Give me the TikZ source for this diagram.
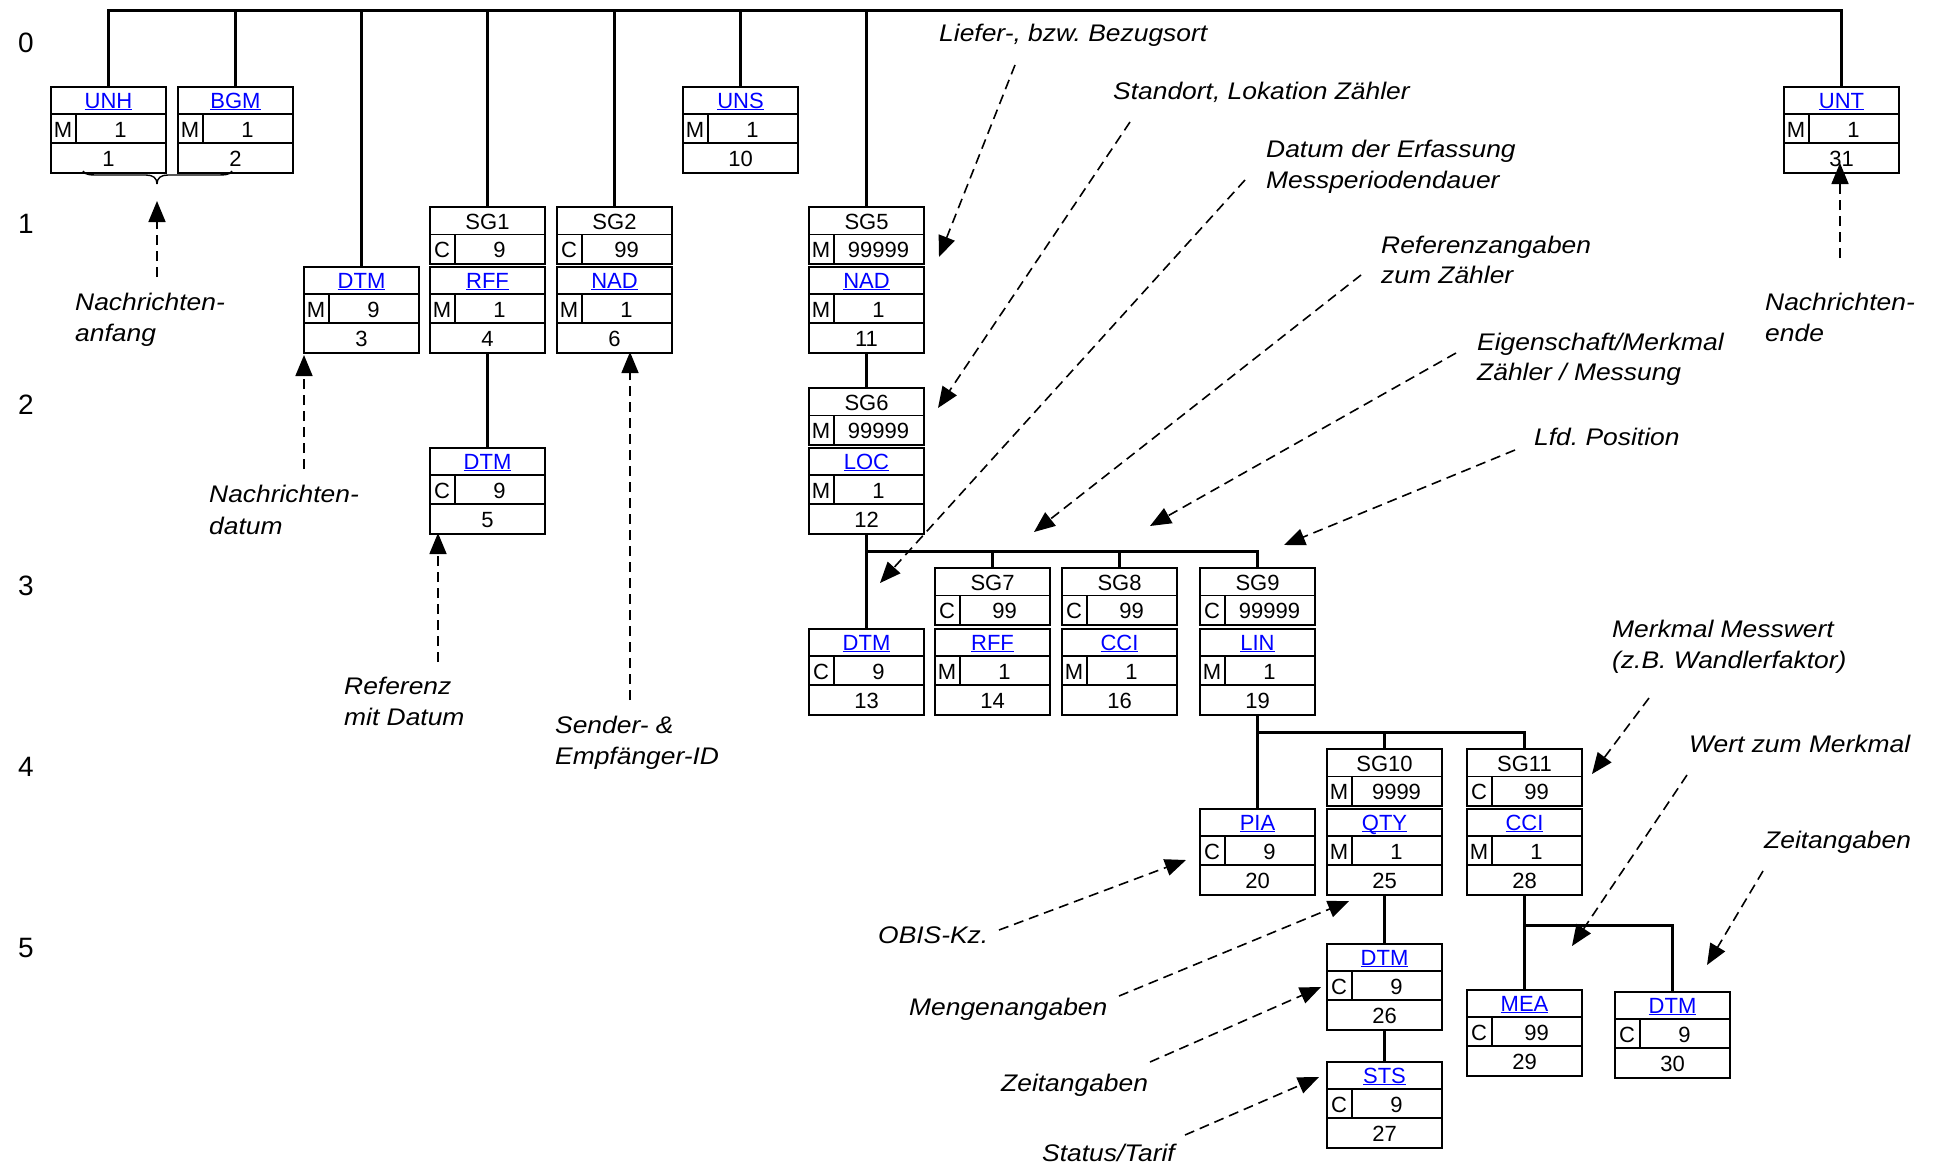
\documentclass[tikz,border=0pt]{standalone}
\usepackage{fontspec}
\setmainfont{Liberation Sans}
\newfontfamily\notefont{Liberation Sans}[FakeStretch=1.1]
\usetikzlibrary{arrows.meta,calc}
\definecolor{linkblue}{RGB}{0,0,255}
\frenchspacing
\newcommand\lnk[1]{\setbox0\hbox{#1}\rlap{\rule[-2.4pt]{\wd0}{1.6pt}}\box0}
\newcommand\segbox[7]{%
  \node[boxframe, minimum height=86pt, anchor=north west] (#1) at (#2,#3) {};
  \draw[inner] ($(#1.north west)+(0,28)$) -- ($(#1.north east)+(0,28)$);
  \draw[inner] ($(#1.north west)+(0,57)$) -- ($(#1.north east)+(0,57)$);
  \draw[inner] ($(#1.north west)+(26,28)$) -- ($(#1.north west)+(26,57)$);
  \node[boxtxt, text=linkblue] (#1-tag) at ($(#1.north)+(0,22)$) {\lnk{#4}};
  \node[boxtxt] (#1-st) at ($(#1.north west)+(13,51)$) {#5};
  \node[boxtxt] (#1-rep) at ($(#1.north west)+(70.5,51)$) {#6};
  \node[boxtxt] (#1-num) at ($(#1.north)+(0,80)$) {#7};
}
\newcommand\grpbox[6]{%
  \node[boxframe, minimum height=57pt, anchor=north west] (#1) at (#2,#3) {};
  \draw[inner] ($(#1.north west)+(0,28.5)$) -- ($(#1.north east)+(0,28.5)$);
  \draw[inner] ($(#1.north west)+(26,28.5)$) -- ($(#1.north west)+(26,57)$);
  \node[boxtxt] (#1-tag) at ($(#1.north)+(0,23)$) {#4};
  \node[boxtxt] (#1-st) at ($(#1.north west)+(13,51)$) {#5};
  \node[boxtxt] (#1-rep) at ($(#1.north west)+(70.5,51)$) {#6};
}
\begin{document}
\begin{tikzpicture}[x=1pt,y=-1pt,
  boxframe/.style={draw, rectangle, line width=2pt, inner sep=0pt, minimum width=115pt},
  inner/.style={line width=1.5pt},
  boxtxt/.style={font={\fontsize{22}{26}\selectfont}, inner sep=0pt, anchor=base},
  tree/.style={line width=2.6pt},
  topline/.style={line width=3pt},
  thinline/.style={line width=1.4pt},
  note/.style={line width=1.6pt, dash pattern=on 10pt off 6pt, -{Triangle[length=21pt,width=17pt]}},
  notetxt/.style={font={\notefont\itshape\fontsize{24}{31}\selectfont}, anchor=base west, inner sep=0pt},
  lvl/.style={font={\fontsize{28}{32}\selectfont}, inner sep=0pt}]
\useasboundingbox (0,0) rectangle (1935,1167);

% level numbers
\node[lvl] (l0) at (26,43) {0};
\node[lvl] (l1) at (26,224) {1};
\node[lvl] (l2) at (26,405) {2};
\node[lvl] (l3) at (26,586) {3};
\node[lvl] (l4) at (26,767) {4};
\node[lvl] (l5) at (26,948) {5};

% boxes
\segbox{unh}{50}{86}{UNH}{M}{1}{1}
\segbox{bgm}{177}{86}{BGM}{M}{1}{2}
\segbox{uns}{682}{86}{UNS}{M}{1}{10}
\segbox{unt}{1783}{86}{UNT}{M}{1}{31}
\segbox{dtm3}{303}{266}{DTM}{M}{9}{3}
\grpbox{sg1}{429}{206}{SG1}{C}{9}
\segbox{rff4}{429}{266}{RFF}{M}{1}{4}
\segbox{dtm5}{429}{447}{DTM}{C}{9}{5}
\grpbox{sg2}{556}{206}{SG2}{C}{99}
\segbox{nad6}{556}{266}{NAD}{M}{1}{6}
\grpbox{sg5}{808}{206}{SG5}{M}{99999}
\segbox{nad11}{808}{266}{NAD}{M}{1}{11}
\grpbox{sg6}{808}{387}{SG6}{M}{99999}
\segbox{loc12}{808}{447}{LOC}{M}{1}{12}
\segbox{dtm13}{808}{628}{DTM}{C}{9}{13}
\grpbox{sg7}{934}{567}{SG7}{C}{99}
\segbox{rff14}{934}{628}{RFF}{M}{1}{14}
\grpbox{sg8}{1061}{567}{SG8}{C}{99}
\segbox{cci16}{1061}{628}{CCI}{M}{1}{16}
\grpbox{sg9}{1199}{567}{SG9}{C}{99999}
\segbox{lin19}{1199}{628}{LIN}{M}{1}{19}
\segbox{pia20}{1199}{808}{PIA}{C}{9}{20}
\grpbox{sg10}{1326}{748}{SG10}{M}{9999}
\segbox{qty25}{1326}{808}{QTY}{M}{1}{25}
\grpbox{sg11}{1466}{748}{SG11}{C}{99}
\segbox{cci28}{1466}{808}{CCI}{M}{1}{28}
\segbox{dtm26}{1326}{943}{DTM}{C}{9}{26}
\segbox{sts27}{1326}{1061}{STS}{C}{9}{27}
\segbox{mea29}{1466}{989}{MEA}{C}{99}{29}
\segbox{dtm30}{1614}{991}{DTM}{C}{9}{30}

% tree
\coordinate (topy) at (0,10);
\coordinate (bar3) at (0,551);
\coordinate (bar4) at (0,732);
\coordinate (bar5) at (0,925);
\draw[topline] (unh.north) -- (unh.north |- topy) -- (unt.north |- topy) -- (unt.north);
\foreach \n in {bgm,dtm3,sg1,sg2,uns,sg5} \draw[tree] (\n.north) -- (\n.north |- topy);
\draw[tree] (rff4.south) -- (dtm5.north);
\draw[tree] (nad11.south) -- (sg6.north);
\draw[tree] (loc12.south) -- (dtm13.north);
\draw[topline] (dtm13.north |- bar3) -| (sg9.north);
\foreach \n in {sg7,sg8} \draw[tree] (\n.north) -- (\n.north |- bar3);
\draw[tree] (lin19.south) -- (pia20.north);
\draw[topline] (pia20.north |- bar4) -| (sg11.north);
\draw[tree] (sg10.north) -- (sg10.north |- bar4);
\draw[tree] (qty25.south) -- (dtm26.north);
\draw[tree] (dtm26.south) -- (sts27.north);
\draw[topline] (cci28.south) -- (mea29.north);
\draw[topline] (cci28.south |- bar5) -| (dtm30.north);

% brace under UNH / BGM
\coordinate (brL) at (83,171);
\coordinate (brR) at (232,171);
\coordinate (brT) at (157,184);
\draw[thinline] (brL) .. controls (85,175) and (90,175) .. (100,175) -- (146,175) .. controls (153,175) and (157,178) .. (brT);
\draw[thinline] (brR) .. controls (230,175) and (225,175) .. (214,175) -- (168,175) .. controls (161,175) and (157,178) .. (brT);

% annotation labels
\node[notetxt] (t1a) at (75,310.5) {Nachrichten-};
\node[notetxt] (t1b) at (75,341.5) {anfang};
\node[notetxt] (t2a) at (209,502.5) {Nachrichten-};
\node[notetxt] (t2b) at (209,534) {datum};
\node[notetxt] (t3a) at (344,694.5) {Referenz};
\node[notetxt] (t3b) at (344,725.5) {mit Datum};
\node[notetxt] (t4a) at (555,733.5) {Sender- \&};
\node[notetxt] (t4b) at (555,764) {Empfänger-ID};
\node[notetxt] (t5a) at (1765,310.5) {Nachrichten-};
\node[notetxt] (t5b) at (1765,341.5) {ende};
\node[notetxt] (t6) at (939,41.5) {Liefer-, bzw. Bezugsort};
\node[notetxt] (t7) at (1113,99.5) {Standort, Lokation Zähler};
\node[notetxt] (t8a) at (1266,157.5) {Datum der Erfassung};
\node[notetxt] (t8b) at (1266,188.5) {Messperiodendauer};
\node[notetxt] (t9a) at (1381,253.5) {Referenzangaben};
\node[notetxt] (t9b) at (1381,283.5) {zum Zähler};
\node[notetxt] (t10a) at (1477,350.5) {Eigenschaft/Merkmal};
\node[notetxt] (t10b) at (1477,380.5) {Zähler / Messung};
\node[notetxt] (t11) at (1534,445.5) {Lfd. Position};
\node[notetxt] (t12a) at (1612,637.5) {Merkmal Messwert};
\node[notetxt] (t12b) at (1612,668.5) {(z.B. Wandlerfaktor)};
\node[notetxt] (t13) at (1689,752.5) {Wert zum Merkmal};
\node[notetxt] (t14) at (1764,848.5) {Zeitangaben};
\node[notetxt] (t15) at (878,943.5) {OBIS-Kz.};
\node[notetxt] (t16) at (909,1015.5) {Mengenangaben};
\node[notetxt] (t17) at (1001,1091.5) {Zeitangaben};
\node[notetxt] (t18) at (1042,1161.5) {Status/Tarif};

% annotation arrows
\coordinate (a1s) at (157,277);  \coordinate (a1e) at (157,201);
\coordinate (a2s) at (304,469);  \coordinate (a2e) at (304,355);
\coordinate (a3s) at (438,662);  \coordinate (a3e) at (438,533);
\coordinate (a4s) at (630,700);  \coordinate (a4e) at (630,352);
\coordinate (a5s) at (1840,258); \coordinate (a5e) at (1840,163);
\coordinate (a6s) at (1015,65);  \coordinate (a6e) at (939,257);
\coordinate (a7s) at (1130,122); \coordinate (a7e) at (938,408);
\coordinate (a8s) at (1245,180); \coordinate (a8e) at (880,583);
\coordinate (a9s) at (1361,275); \coordinate (a9e) at (1034,532);
\coordinate (a10s) at (1456,353); \coordinate (a10e) at (1150,526);
\coordinate (a11s) at (1515,450); \coordinate (a11e) at (1284,545);
\coordinate (a12s) at (1649,698); \coordinate (a12e) at (1592,774);
\coordinate (a13s) at (1687,775); \coordinate (a13e) at (1572,946);
\coordinate (a14s) at (1763,871); \coordinate (a14e) at (1707,965);
\coordinate (a15s) at (999,930);  \coordinate (a15e) at (1186,860);
\coordinate (a16s) at (1119,996); \coordinate (a16e) at (1349,901);
\coordinate (a17s) at (1150,1062); \coordinate (a17e) at (1321,987);
\coordinate (a18s) at (1185,1135); \coordinate (a18e) at (1319,1077);
\foreach \i in {1,...,18} \draw[note] (a\i s) -- (a\i e);
\end{tikzpicture}
\end{document}
